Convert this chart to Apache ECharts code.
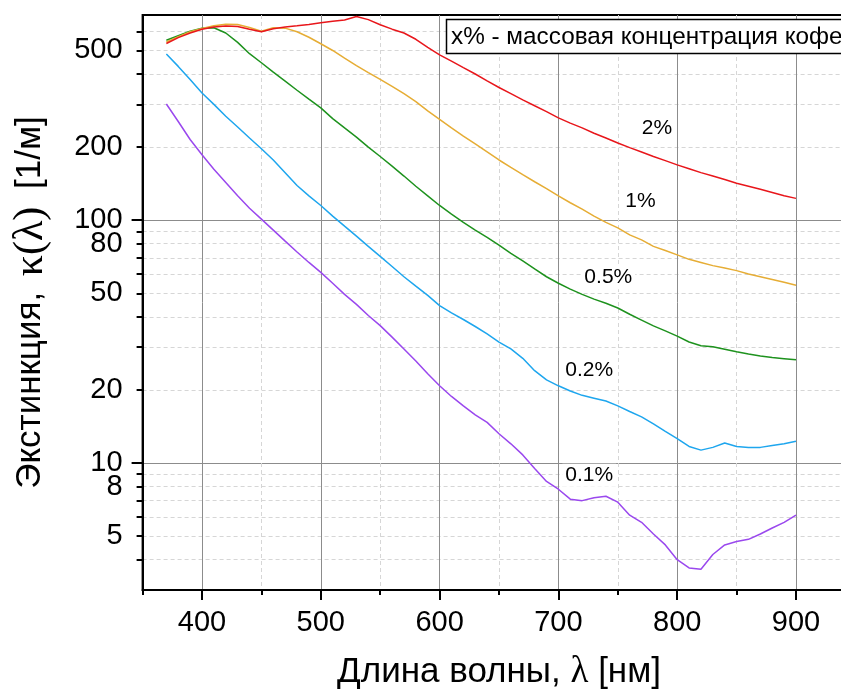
<!DOCTYPE html>
<html><head><meta charset="utf-8">
<script src="https://cdn.jsdelivr.net/npm/echarts@6/dist/echarts.min.js"></script>
<style>html,body{margin:0;padding:0;background:#fff}#c{width:841px;height:695px}</style>
</head><body><div id="c"></div>
<script>
const wavelengths = [370,380,390,400,410,420,430,440,450,460,470,480,490,500,510,520,530,540,550,560,570,580,590,600,610,620,630,640,650,660,670,680,690,700,710,720,730,740,750,760,770,780,790,800,810,820,830,840,850,860,870,880,890,900];
const kappa2 = [534,565,590,612,625,630,628,612,597,615,625,632,640,650,660,668,690,670,638,612,590,556,515,480,452,425,400,375,352,332,313,296,280,264,251,240,228,218,208,199,191,183,176,169,163,157,152,147,142,138,134,130,126,123];
const kappa1 = [542,570,597,616,632,641,640,622,600,620,618,597,567,533,500,465,433,405,380,356,332,308,282,260,240,222,206,191,177,165,154,144,135,126,118,111,104,98,93,87,83,78,75,72,69,67,65,63.5,62,60,58.5,57,55.5,54];
const kappa05 = [551,575,600,618,620,590,540,485,445,407,374,343,315,290,262,240,220,200,183,167,152,138,126,115,106,98,91,85,79,73,68,63,58.5,55,52,49.5,47.3,45.5,43.5,41,38.8,36.7,35,33.3,31.5,30.4,30.1,29.4,28.7,28.1,27.6,27.2,26.9,26.6];
const kappa02 = [484,430,380,334,300,268,242,218,197,177,157,139,126,115,104,94.5,86,78,71,64.5,58.5,53.5,49,44.5,41.5,39,36.5,34,31.5,29.5,27,24,22,20.8,19.8,19,18.5,18,17.2,16.3,15.5,14.5,13.5,12.6,11.7,11.3,11.6,12.1,11.7,11.6,11.6,11.8,12,12.3];
const kappa01 = [301,255,215,186,162,143,126,112,101,91,82,74,67,61,55,49.5,45,40.5,36.8,33,29.5,26.3,23.3,20.8,18.8,17.2,15.8,14.7,13.2,12,10.8,9.5,8.4,7.8,7.1,7.0,7.2,7.3,6.9,6.1,5.7,5.1,4.6,4.0,3.7,3.65,4.2,4.6,4.75,4.85,5.1,5.4,5.7,6.1];
const seriesNames = ['2%','1%','0.5%','0.2%','0.1%'];
const labelX = [783,769,742,726,726];
const labelY = [240,120,58,24.1,8.9];
const xMajorTicks = [400,500,600,700,800,900];
const xMinorTicks = [350,450,550,650,750,850,950];
const yTickLabels = [5,8,10,20,50,80,100,200,500];
const yMajorTicks = [10,100];
const yMinorTicks = [4,5,6,7,8,9,20,30,40,50,60,70,80,90,200,300,400,500,600];
const noteText = 'x% - массовая концентрация кофе';

const colors = ['#e8161b','#e6ad35','#1e921e','#1ea6ee','#9a48ee'];
const allSeries = [kappa2,kappa1,kappa05,kappa02,kappa01];
const FF = '"Liberation Sans", Arial, sans-serif';
const SERIF = '"Liberation Serif", "DejaVu Serif", serif';
const yMin = 3, yMax = 700;
const lg = Math.log10;

const chart = echarts.init(document.getElementById('c'), null, {renderer:'canvas'});
const series = allSeries.map((vals, i) => ({
  type:'line', name: seriesNames[i], xAxisIndex:0, yAxisIndex:0,
  data: wavelengths.map((w, j) => [w, vals[j]]),
  showSymbol:false, symbol:'none',
  lineStyle:{color:colors[i], width:1.5}, itemStyle:{color:colors[i]},
  z: 5 - i + 2,
  markPoint:{
    symbol:'circle', symbolSize:0, silent:true,
    data:[{coord:[labelX[i], labelY[i]]}],
    label:{show:true, position:'inside', formatter: seriesNames[i], fontSize:21, fontFamily:FF, color:'#000', backgroundColor:'#fff', padding:[1,3]}
  }
}));

chart.setOption({
  animation:false,
  backgroundColor:'#fff',
  grid:{left:142.6, top:15, right:-14.4, bottom:105, show:true, borderColor:'#000', borderWidth:2, containLabel:false, outerBoundsMode:'none'},
  xAxis:[
    {type:'value', min:350, max:950, position:'bottom',
     axisLine:{show:false}, axisTick:{show:true, customValues:xMinorTicks, length:5, lineStyle:{color:'#000', width:2}},
     axisLabel:{show:false},
     splitLine:{show:true, lineStyle:{color:'#d6d6d6', width:1, type:[4,3]}}},
    {type:'value', min:350, max:950, position:'bottom',
     axisLine:{show:true, onZero:false, lineStyle:{color:'#000', width:2}},
     axisTick:{show:true, customValues:xMajorTicks, length:10, lineStyle:{color:'#000', width:2}},
     axisLabel:{show:true, customValues:xMajorTicks, fontSize:29, fontFamily:FF, color:'#000', margin:18},
     splitLine:{show:true, lineStyle:{color:'#8c8c8c', width:1}},
     name:'Длина волны, {s|λ} [нм]', nameLocation:'middle', nameGap:64,
     nameTextStyle:{fontSize:35, fontFamily:FF, color:'#000', rich:{s:{fontSize:37, fontFamily:SERIF, color:'#000'}}}}
  ],
  yAxis:[
    {type:'log', logBase:10, min:yMin, max:yMax, show:false},
    {type:'value', min:lg(yMin), max:lg(yMax), position:'left',
     axisLine:{show:false},
     axisTick:{show:true, customValues:yMinorTicks.map(lg), length:6, lineStyle:{color:'#000', width:2}},
     axisLabel:{show:false},
     splitLine:{show:true, lineStyle:{color:'#d6d6d6', width:1, type:[4,3]}}},
    {type:'value', min:lg(yMin), max:lg(yMax), position:'left',
     axisLine:{show:true, onZero:false, lineStyle:{color:'#000', width:2}},
     axisTick:{show:true, customValues:yMajorTicks.map(lg), length:11, lineStyle:{color:'#000', width:2}},
     axisLabel:{show:true, customValues:yTickLabels.map(lg), fontSize:29, fontFamily:FF, color:'#000', margin:20,
       formatter: v => String(Math.round(Math.pow(10, v)))},
     splitLine:{show:true, lineStyle:{color:'#8c8c8c', width:1}},
     name:'Экстинкция, {s|κ(λ)} [1/м]', nameLocation:'middle', nameGap:91,
     nameTextStyle:{fontSize:35, fontFamily:FF, color:'#000', rich:{s:{fontSize:42, fontFamily:SERIF, color:'#000', padding:[0,8,0,6]}}}}
  ],
  graphic:[
    {type:'rect', shape:{x:446.5, y:19.5, width:420, height:34}, style:{fill:'#fff', stroke:'#000', lineWidth:1.5}, z:100},
    {type:'text', x:451, y:37, style:{text:noteText, fontSize:24.3, fontFamily:FF, fill:'#000', verticalAlign:'middle', align:'left'}, z:101}
  ],
  series: series
});
</script></body></html>
